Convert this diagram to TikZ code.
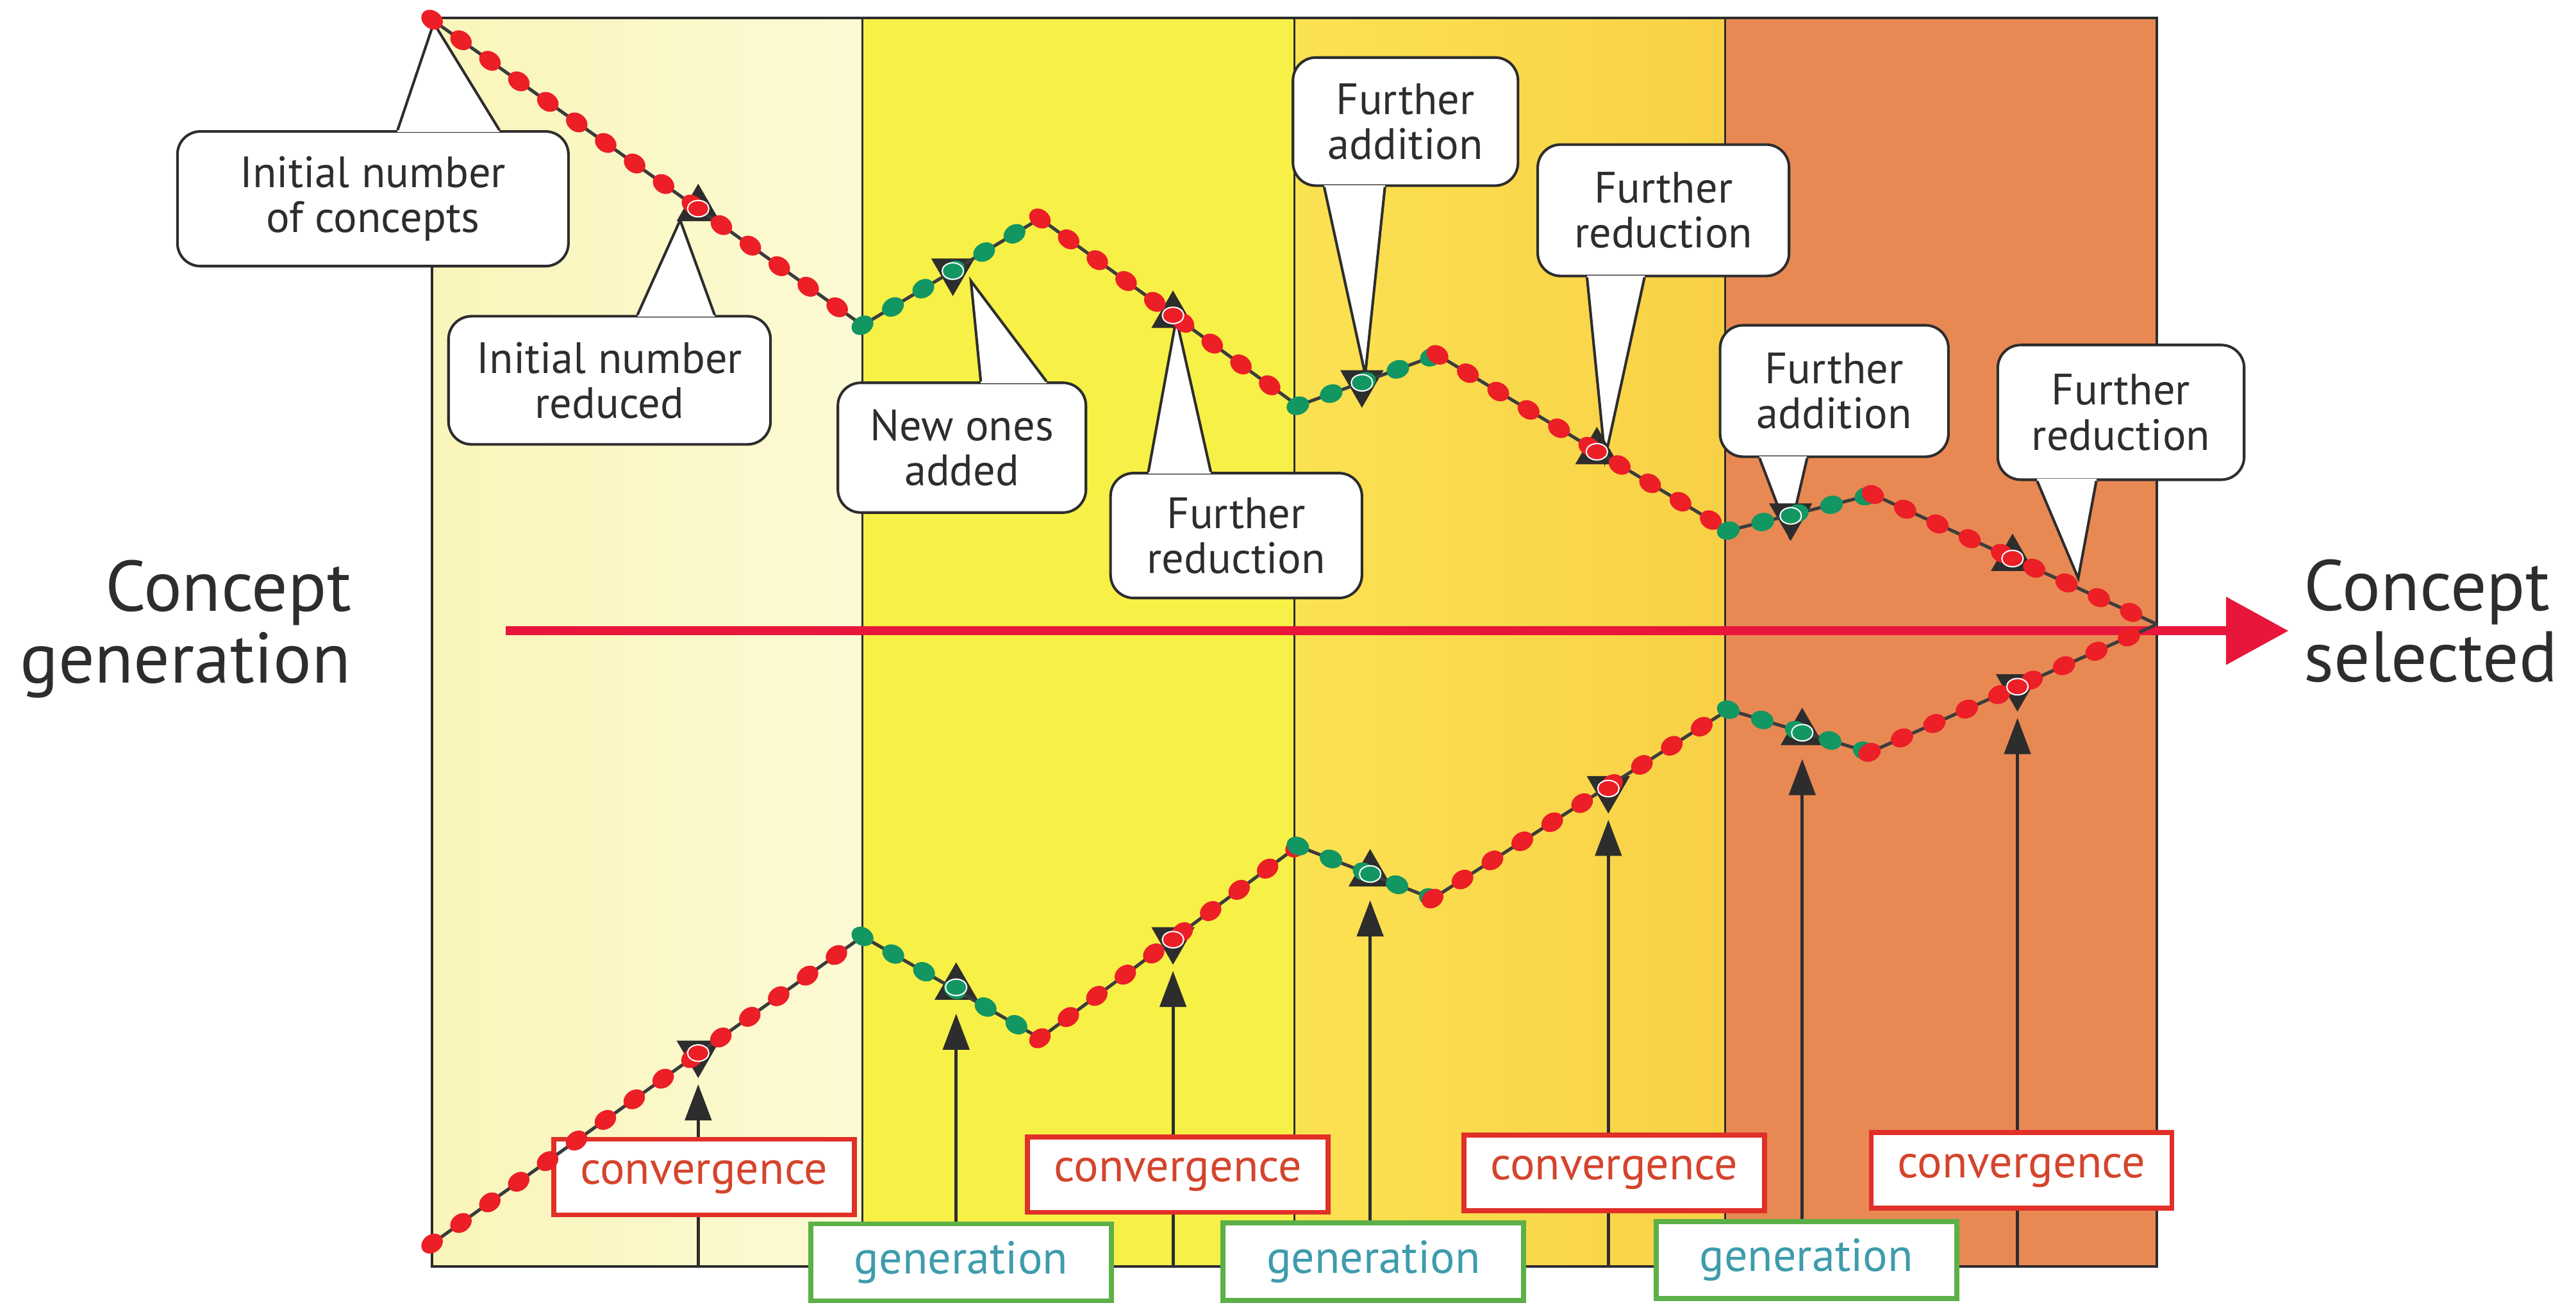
\documentclass[tikz,border=0pt]{standalone}
\usepackage{fontspec}
\setmainfont{PT Sans}
\usepackage{tikz}
\usepackage{xcolor}
\usetikzlibrary{
    arrows.meta,
    shapes.geometric,
    decorations.markings,
    calc,
    positioning
}

\definecolor{paleA}{RGB}{250,245,186}
\definecolor{paleB}{RGB}{252,250,212}
\definecolor{lemon}{RGB}{247,240,70}
\definecolor{goldA}{RGB}{251,226,82}
\definecolor{goldB}{RGB}{248,208,70}
\definecolor{rust}{RGB}{232,137,84}
\definecolor{dotred}{RGB}{236,30,38}
\definecolor{dotgreen}{RGB}{18,150,98}
\definecolor{strand}{RGB}{60,60,60}
\definecolor{ink}{RGB}{45,45,45}
\definecolor{axisred}{RGB}{232,22,58}
\definecolor{convred}{RGB}{224,48,40}
\definecolor{convtext}{RGB}{212,68,44}
\definecolor{gengreen}{RGB}{92,176,72}
\definecolor{gentext}{RGB}{62,156,172}

\tikzset{
    reddots/.style={draw=strand, line width=0.5mm,
        postaction={decorate, decoration={markings,
            mark=between positions 0 and 1 step 5.4mm with {\fill[dotred] (0,0) ellipse (7 and 5.5);}}}},
    greendots/.style={draw=strand, line width=0.5mm,
        postaction={decorate, decoration={markings,
            mark=between positions 0 and 1 step 5.4mm with {\fill[dotgreen] (0,0) ellipse (7 and 5.5);}}}},
    callout/.style={draw=ink, line width=0.4mm, fill=white, rounded corners=3.5mm,
        align=center, text=ink, inner sep=0pt, font=\fontsize{19}{19.5}\selectfont},
    pointer/.style={draw=ink, line width=0.4mm},
    upmark/.style={regular polygon, regular polygon sides=3, fill=ink,
        inner sep=0pt, minimum size=7.6mm},
    downmark/.style={upmark, shape border rotate=180},
    stem/.style={draw=ink, line width=0.5mm},
    feed/.style={stem, -{Triangle[length=5.5mm, width=4mm]}},
    convbox/.style={draw=convred, line width=0.75mm, fill=white, text=convtext,
        minimum width=45.75mm, minimum height=11.5mm, inner sep=0pt,
        font=\fontsize{20}{22}\selectfont},
    genbox/.style={convbox, draw=gengreen, text=gentext, minimum height=11.75mm},
    side/.style={text=ink, inner sep=0pt, font=\fontsize{31}{31}\selectfont},
    axis/.style={draw=axisred, line width=1.4mm, -{Triangle[length=9.5mm, width=10mm]}}
}

\begin{document}
\begin{tikzpicture}[x=0.25mm, y=-0.25mm]
    \useasboundingbox (0,0) rectangle (1568,793);

    % the four stages
    \shade[left color=paleA, right color=paleB] (263,11) rectangle (525,771);
    \fill[lemon] (525,11) rectangle (788,771);
    \shade[left color=goldA, right color=goldB] (788,11) rectangle (1050,771);
    \fill[rust] (1050,11) rectangle (1313,771);
    \foreach \x in {525,788,1050}
        \draw[ink, line width=0.3mm] (\x,11) -- (\x,771);
    \draw[ink, line width=0.4mm] (263,11) rectangle (1313,771);
    \coordinate (base) at (0,771);

    % start and end
    \node[side, align=right, anchor=east] (start) at (214,383) {Concept\\generation};
    \node[side, align=left, anchor=west] (goal) at (1402,378) {Concept\\selected};
    \coordinate (axisL) at (308,384);
    \coordinate (axisR) at (1393,384);
    \draw[axis] (axisL) -- (axisR);

    % phase boxes
    \node[convbox] (c1) at (428.5,716.5) {convergence};
    \node[convbox] (c2) at (717,715) {convergence};
    \node[convbox] (c3) at (982.5,714) {convergence};
    \node[convbox] (c4) at (1230.5,712.5) {convergence};
    \node[genbox] (g1) at (585,768.5) {generation};
    \node[genbox] (g2) at (836,768) {generation};
    \node[genbox] (g3) at (1099.5,767) {generation};

    % callouts
    \node[callout, minimum width=59.5mm, minimum height=20.5mm] (cIni) at (227,121) {Initial number\\of concepts};
    \coordinate (cIniTip) at (264,14);
    \fill[white] (242,0 |- cIni.north) -- (cIniTip) -- (304,0 |- cIni.north) -- cycle;
    \draw[white, line width=0.6mm] (242,0 |- cIni.north) -- (304,0 |- cIni.north);
    \draw[pointer] (242,0 |- cIni.north) -- (cIniTip) -- (304,0 |- cIni.north);

    \node[callout, minimum width=49mm, minimum height=19.5mm] (cRed) at (371,231.5) {Initial number\\reduced};
    \coordinate (cRedTip) at (414,134);
    \fill[white] (388,0 |- cRed.north) -- (cRedTip) -- (435,0 |- cRed.north) -- cycle;
    \draw[white, line width=0.6mm] (388,0 |- cRed.north) -- (435,0 |- cRed.north);
    \draw[pointer] (388,0 |- cRed.north) -- (cRedTip) -- (435,0 |- cRed.north);

    \node[callout, minimum width=37.75mm, minimum height=19.75mm] (cNew) at (585.5,272.5) {New ones\\added};
    \coordinate (cNewTip) at (591,171);
    \fill[white] (597,0 |- cNew.north) -- (cNewTip) -- (637,0 |- cNew.north) -- cycle;
    \draw[white, line width=0.6mm] (597,0 |- cNew.north) -- (637,0 |- cNew.north);
    \draw[pointer] (597,0 |- cNew.north) -- (cNewTip) -- (637,0 |- cNew.north);

    \node[callout, minimum width=38.25mm, minimum height=19mm] (cRedA) at (752.5,326) {Further\\reduction};
    \coordinate (cRedATip) at (716,194);
    \fill[white] (699,0 |- cRedA.north) -- (cRedATip) -- (737,0 |- cRedA.north) -- cycle;
    \draw[white, line width=0.6mm] (699,0 |- cRedA.north) -- (737,0 |- cRedA.north);
    \draw[pointer] (699,0 |- cRedA.north) -- (cRedATip) -- (737,0 |- cRedA.north);

    \node[callout, minimum width=34.25mm, minimum height=19.5mm] (cAddA) at (855.5,74) {Further\\addition};
    \coordinate (cAddATip) at (831,228);
    \fill[white] (806,0 |- cAddA.south) -- (cAddATip) -- (843,0 |- cAddA.south) -- cycle;
    \draw[white, line width=0.6mm] (806,0 |- cAddA.south) -- (843,0 |- cAddA.south);
    \draw[pointer] (806,0 |- cAddA.south) -- (cAddATip) -- (843,0 |- cAddA.south);

    \node[callout, minimum width=38.25mm, minimum height=20mm] (cRedB) at (1012.5,128) {Further\\reduction};
    \coordinate (cRedBTip) at (977,279);
    \fill[white] (966,0 |- cRedB.south) -- (cRedBTip) -- (1001,0 |- cRedB.south) -- cycle;
    \draw[white, line width=0.6mm] (966,0 |- cRedB.south) -- (1001,0 |- cRedB.south);
    \draw[pointer] (966,0 |- cRedB.south) -- (cRedBTip) -- (1001,0 |- cRedB.south);

    \node[callout, minimum width=34.75mm, minimum height=20mm] (cAddB) at (1116.5,238) {Further\\addition};
    \coordinate (cAddBTip) at (1089,326);
    \fill[white] (1071,0 |- cAddB.south) -- (cAddBTip) -- (1100,0 |- cAddB.south) -- cycle;
    \draw[white, line width=0.6mm] (1071,0 |- cAddB.south) -- (1100,0 |- cAddB.south);
    \draw[pointer] (1071,0 |- cAddB.south) -- (cAddBTip) -- (1100,0 |- cAddB.south);

    \node[callout, minimum width=37.5mm, minimum height=20.5mm] (cRedC) at (1291,251) {Further\\reduction};
    \coordinate (cRedCTip) at (1265,352);
    \fill[white] (1240,0 |- cRedC.south) -- (cRedCTip) -- (1276,0 |- cRedC.south) -- cycle;
    \draw[white, line width=0.6mm] (1240,0 |- cRedC.south) -- (1276,0 |- cRedC.south);
    \draw[pointer] (1240,0 |- cRedC.south) -- (cRedCTip) -- (1276,0 |- cRedC.south);

    % markers on the two curves
    \node[upmark] (up1) at (425,127) {};
    \node[downmark] (up2) at (580,165) {};
    \node[upmark] (up3) at (714,192) {};
    \node[downmark] (up4) at (829,233) {};
    \node[upmark] (up5) at (972,275) {};
    \node[downmark] (up6) at (1090,314) {};
    \node[upmark] (up7) at (1225,340) {};
    \node[downmark] (lo1) at (425,641) {};
    \node[upmark] (lo2) at (582,601) {};
    \node[downmark] (lo3) at (714,572) {};
    \node[upmark] (lo4) at (834,532) {};
    \node[downmark] (lo5) at (979,480) {};
    \node[upmark] (lo6) at (1097,446) {};
    \node[downmark] (lo7) at (1228,418) {};

    % arrows from the phase boxes
    \draw[stem] (lo1 |- base) -- (lo1 |- c1.south);
    \draw[feed] (lo1 |- c1.north) -- ($(lo1)+(0,19)$);
    \draw[feed] (lo2 |- g1.north) -- ($(lo2)+(0,16)$);
    \draw[stem] (lo3 |- base) -- (lo3 |- c2.south);
    \draw[feed] (lo3 |- c2.north) -- ($(lo3)+(0,19)$);
    \draw[feed] (lo4 |- g2.north) -- ($(lo4)+(0,16)$);
    \draw[stem] (lo5 |- base) -- (lo5 |- c3.south);
    \draw[feed] (lo5 |- c3.north) -- ($(lo5)+(0,19)$);
    \draw[feed] (lo6 |- g3.north) -- ($(lo6)+(0,16)$);
    \draw[stem] (lo7 |- base) -- (lo7 |- c4.south);
    \draw[feed] (lo7 |- c4.north) -- ($(lo7)+(0,19)$);

    % upper curve
    \coordinate (u0) at (263,12);
    \coordinate (u1) at (525,198);
    \coordinate (u2) at (633,133);
    \coordinate (u3) at (790,247);
    \coordinate (u4) at (875,216);
    \coordinate (u5) at (1052,323);
    \coordinate (u6) at (1140,301);
    \coordinate (u7) at (1313,380);
    \draw[reddots] (u0) -- (u1);
    \draw[greendots] (u1) -- (u2);
    \draw[reddots] (u2) -- (u3);
    \draw[greendots] (u3) -- (u4);
    \draw[reddots] (u4) -- (u5);
    \draw[greendots] (u5) -- (u6);
    \draw[reddots] (u6) -- (u7);

    % lower curve
    \coordinate (l0) at (263,757);
    \coordinate (l1) at (525,570);
    \coordinate (l2) at (633,632);
    \coordinate (l3) at (790,515);
    \coordinate (l4) at (872,547);
    \coordinate (l5) at (1052,432);
    \coordinate (l6) at (1138,458);
    \coordinate (l7) at (1313,380);
    \draw[reddots] (l0) -- (l1);
    \draw[greendots] (l1) -- (l2);
    \draw[reddots] (l2) -- (l3);
    \draw[greendots] (l3) -- (l4);
    \draw[reddots] (l4) -- (l5);
    \draw[greendots] (l5) -- (l6);
    \draw[reddots] (l6) -- (l7);

    % dots sitting on the markers
    \foreach \m in {up1,up3,up5,up7,lo1,lo3,lo5,lo7}
        \filldraw[fill=dotred, draw=white, line width=0.2mm] (\m) ellipse (6.5 and 5);
    \foreach \m in {up2,up4,up6,lo2,lo4,lo6}
        \filldraw[fill=dotgreen, draw=white, line width=0.2mm] (\m) ellipse (6.5 and 5);
\end{tikzpicture}
\end{document}
